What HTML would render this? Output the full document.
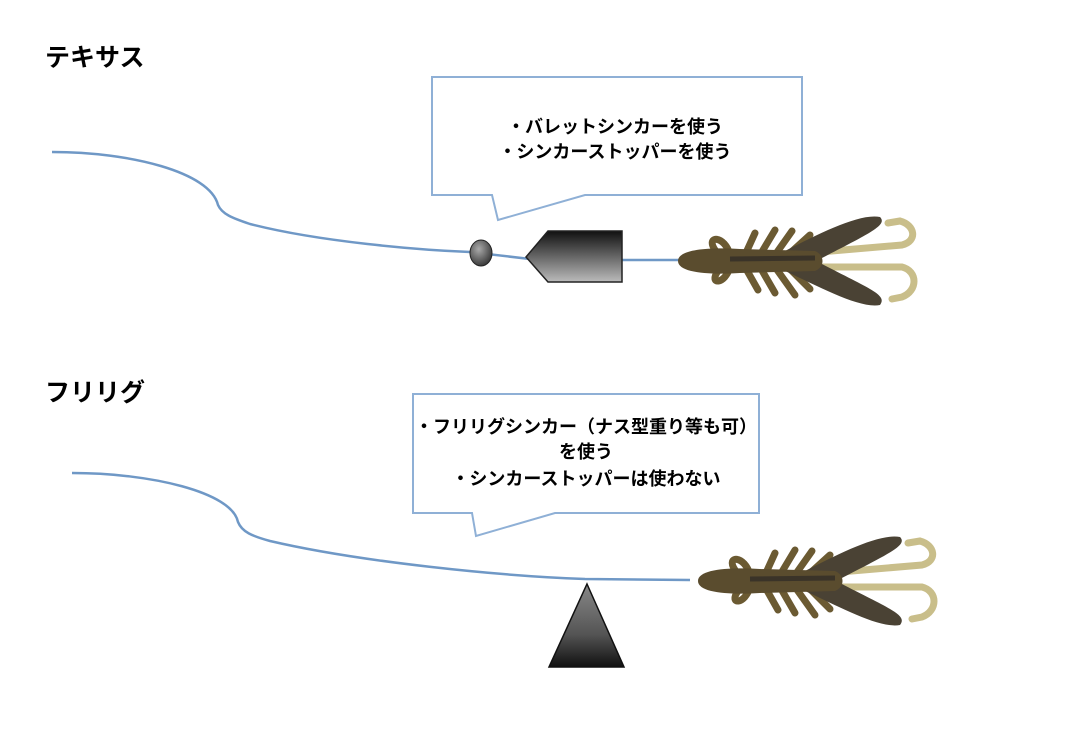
<!DOCTYPE html>
<html><head><meta charset="utf-8">
<style>
html,body{margin:0;padding:0;background:#fff;}
svg{display:block;}
text{font-family:"Liberation Sans","Noto Sans CJK JP",sans-serif;}
</style></head>
<body>
<svg width="1066" height="742" viewBox="0 0 1066 742" xmlns="http://www.w3.org/2000/svg">
<defs>
<linearGradient id="g1" x1="0" y1="0" x2="0" y2="1">
<stop offset="0" stop-color="#111"/><stop offset="0.6" stop-color="#777"/><stop offset="1" stop-color="#bbb"/>
</linearGradient>
<linearGradient id="g2" x1="0" y1="0" x2="0" y2="1">
<stop offset="0" stop-color="#888"/><stop offset="0.6" stop-color="#555"/><stop offset="1" stop-color="#111"/>
</linearGradient>
<radialGradient id="g3" cx="0.4" cy="0.35" r="0.7">
<stop offset="0" stop-color="#aaa"/><stop offset="1" stop-color="#333"/>
</radialGradient>
<g id="bait">
  <path d="M150 47 L232 40 C248 36 245 20 230 16 L218 18" fill="none" stroke="#c9be8a" stroke-width="7" stroke-linecap="round"/>
  <path d="M150 62 L232 62 C248 66 248 86 232 92 L222 94" fill="none" stroke="#c9be8a" stroke-width="7" stroke-linecap="round"/>
  <g stroke="#6b5a32" stroke-width="7" stroke-linecap="round" fill="none">
    <path d="M60 50 C55 30 35 30 45 45"/>
    <path d="M60 62 C55 80 38 80 48 66"/>
    <path d="M75 50 L85 28"/><path d="M90 50 L105 25"/><path d="M105 50 L122 26"/>
    <path d="M75 62 L88 85"/><path d="M90 62 L105 88"/><path d="M105 62 L125 90"/>
    <path d="M118 50 L140 30"/><path d="M118 62 L140 84"/>
  </g>
  <path d="M115 46 C150 28 190 8 210 12 C218 20 200 28 150 54 Z" fill="#4a4234"/>
  <path d="M115 66 C150 82 190 104 210 100 C218 90 200 84 150 58 Z" fill="#4a4234"/>
  <path d="M8 56 C8 44 40 42 70 44 L145 46 C155 50 155 62 145 66 L70 68 C40 70 8 68 8 56 Z" fill="#5a4c2e"/>
  <path d="M60 54 L145 53" stroke="#3a3328" stroke-width="5"/>
</g>
</defs>

<text x="45" y="66" font-size="25" font-weight="bold" fill="#000">テキサス</text>
<text x="45" y="401" font-size="25" font-weight="bold" fill="#000">フリリグ</text>

<path d="M52 152 C130 152 210 172 218 205 C222 214 232 218 250 224 C320 242 420 250 470 252 L530 259 M622 260 L682 260" fill="none" stroke="#6f98c6" stroke-width="2.5"/>
<path d="M432 77 L802 77 L802 195 L585 195 L498 220 L492 195 L432 195 Z" fill="#fff" stroke="#8fb0d6" stroke-width="2"/>
<text x="615" y="133" font-size="18" font-weight="bold" text-anchor="middle" fill="#000">・バレットシンカーを使う</text>
<text x="615" y="158" font-size="18" font-weight="bold" text-anchor="middle" fill="#000">・シンカーストッパーを使う</text>
<ellipse cx="481" cy="253" rx="11" ry="13" fill="url(#g3)" stroke="#222" stroke-width="1"/>
<polygon points="526,257 548,231 622,231 622,282 548,282" fill="url(#g1)" stroke="#222" stroke-width="1.5"/>
<use href="#bait" transform="translate(670,205)"/>

<path d="M72 473 C150 473 232 492 238 522 C242 532 252 536 270 541 C360 562 500 576 585 579 L690 580" fill="none" stroke="#6f98c6" stroke-width="2.5"/>
<path d="M413 394 L759 394 L759 513 L555 513 L476 536 L472 513 L413 513 Z" fill="#fff" stroke="#8fb0d6" stroke-width="2"/>
<text x="586" y="433" font-size="18" font-weight="bold" text-anchor="middle" fill="#000">・フリリグシンカー（ナス型重り等も可）</text>
<text x="586" y="458" font-size="18" font-weight="bold" text-anchor="middle" fill="#000">を使う</text>
<text x="586" y="485" font-size="18" font-weight="bold" text-anchor="middle" fill="#000">・シンカーストッパーは使わない</text>
<polygon points="587,584 624,667 549,667" fill="url(#g2)" stroke="#111" stroke-width="1.5"/>
<use href="#bait" transform="translate(690,525)"/>
</svg>
</body></html>
